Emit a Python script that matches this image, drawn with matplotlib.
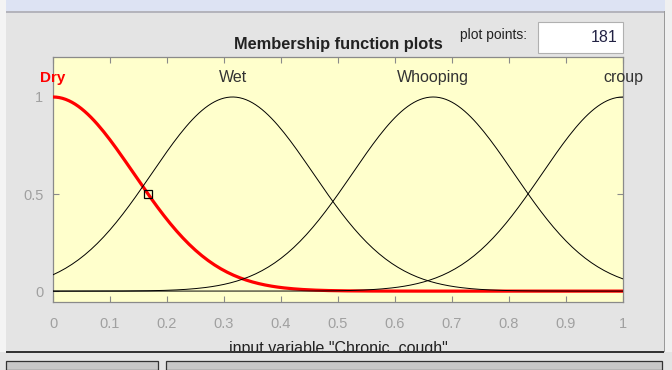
import numpy as np
import matplotlib
matplotlib.use("Agg")
import matplotlib.pyplot as plt
from matplotlib.patches import Rectangle

plt.rcParams['font.family'] = ['Liberation Sans', 'DejaVu Sans']

# membership functions of the input variable (gaussmf: center, sigma)
mf_names = ["Dry", "Wet", "Whooping", "croup"]
mf_centers = [0.0, 0.315, 0.667, 1.0]
mf_sigmas = [0.1416, 0.1416, 0.1416, 0.1416]
n_points = 181
x_ticks = [0, 0.1, 0.2, 0.3, 0.4, 0.5, 0.6, 0.7, 0.8, 0.9, 1]
y_ticks = [0, 0.5, 1]
selected = 0
handle_x = 1 / 6
handle_y = 0.5

W, H = 672, 370

def fx(px):
    return px / W

def fy(py):
    return 1 - py / H

fig = plt.figure(figsize=(W / 100, H / 100), dpi=100, facecolor="#e4e4e4")

# window chrome
def box(x0, y0, x1, y1, fc, ec="none", lw=0):
    fig.add_artist(Rectangle((fx(x0), fy(y1)), fx(x1) - fx(x0), fy(y0) - fy(y1),
                             transform=fig.transFigure, fc=fc, ec=ec, lw=lw))

box(0, 0, 6, 370, "#f4f4f4")
box(665, 0, 672, 370, "#f0f0f0")
box(6, 0, 665, 11, "#dde3f3")
box(6, 11, 665, 13, "#b4b4bc")
box(664, 11, 665, 352, "#9a9a9a")

ax = fig.add_axes([fx(53), fy(302), fx(623) - fx(53), fy(57) - fy(302)])
ax.set_facecolor("#ffffcc")

x = np.linspace(0, 1, n_points)
for i, (name, c, s) in enumerate(zip(mf_names, mf_centers, mf_sigmas)):
    y = np.exp(-(x - c) ** 2 / (2 * s ** 2))
    if i == selected:
        ax.plot(x, y, color="red", lw=2.3, zorder=3)
        ax.text(c, 1.1, name, color="red", fontweight="bold", fontsize=11,
                ha="center", va="center", clip_on=False)
    else:
        ax.plot(x, y, color="black", lw=0.7, zorder=4)
        ax.text(c, 1.1, name, color="#333333", fontsize=11.5,
                ha="center", va="center", clip_on=False)

ax.plot([handle_x], [handle_y], marker="s", ms=6, mfc="none", mec="black",
        mew=0.9, zorder=5)

ax.set_xlim(0, 1)
ax.set_ylim(-0.056, 1.206)
ax.set_xticks(x_ticks)
ax.set_xticklabels([f"{t:g}" for t in x_ticks])
ax.set_yticks(y_ticks)
ax.set_yticklabels([f"{t:g}" for t in y_ticks])
ax.tick_params(direction="in", length=4, width=0.8, color="#8a8a8a",
               labelcolor="#a0a0a0", labelsize=10.5, top=True, right=True)
ax.tick_params(axis="x", pad=11)
ax.tick_params(axis="y", pad=7)
for sp in ax.spines.values():
    sp.set_color("#8a8a8a")
    sp.set_linewidth(0.9)

ax.set_xlabel('input variable "Chronic_cough"', fontsize=11.5, color="#222222",
              labelpad=7)

fig.text(fx(338), fy(44), "Membership function plots", fontsize=11.8,
         fontweight="bold", color="#222222", ha="center", va="center")
fig.text(fx(460), fy(35), "plot points:", fontsize=10, color="#222222",
         ha="left", va="center")
box(538, 22, 623, 53, "white", ec="#b0b0b0", lw=0.8)
fig.text(fx(618), fy(38), str(n_points), fontsize=11.5, color="#222244",
         ha="right", va="center")

# lower panels
box(0, 352, 672, 370, "#e4e4e4")
box(6, 351, 664, 353, "#333333")
box(6, 361, 158, 370, "#c8c8c8", ec="#333333", lw=0.9)
box(166, 361, 662, 370, "#c8c8c8", ec="#333333", lw=0.9)

fig.savefig("out.png", dpi=100, facecolor=fig.get_facecolor())
